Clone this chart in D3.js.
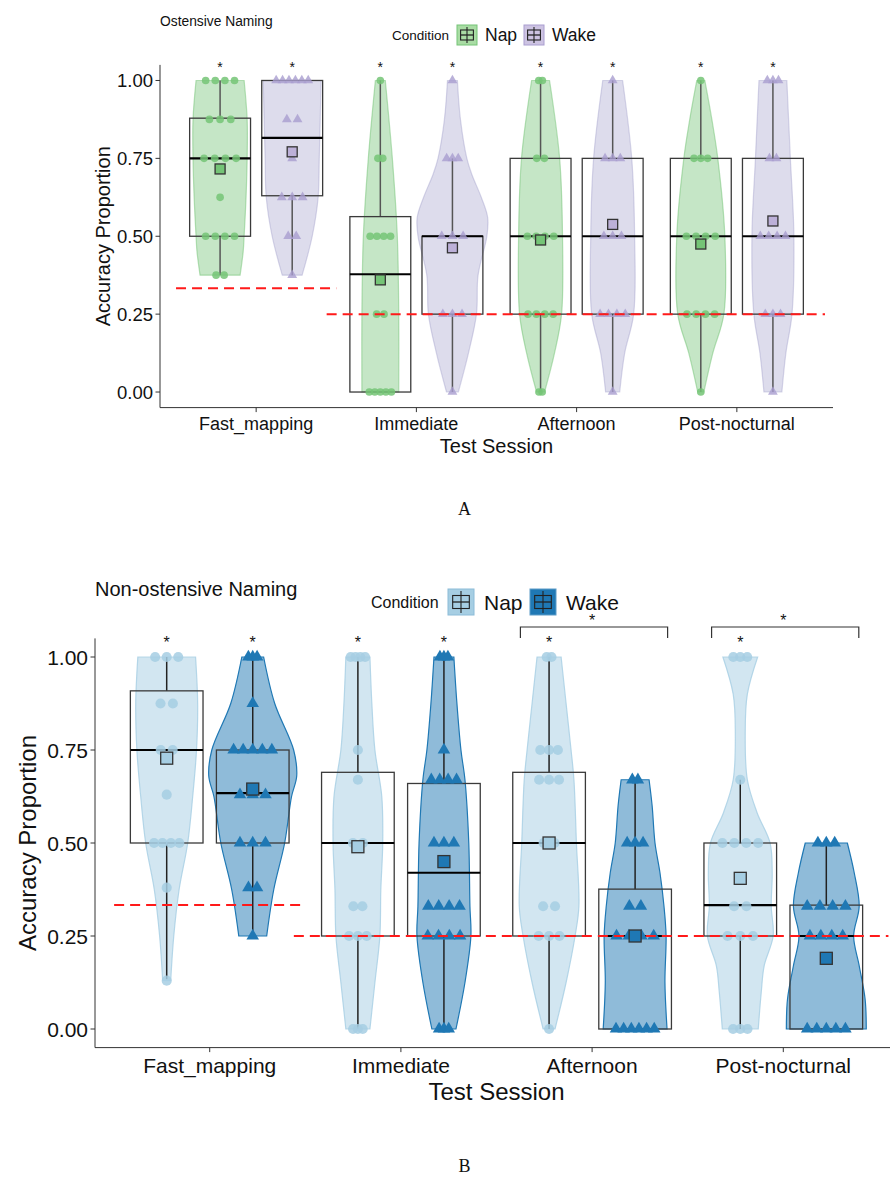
<!DOCTYPE html>
<html>
<head>
<meta charset="utf-8">
<script src="https://cdn.jsdelivr.net/npm/d3@7"></script>
<style>
  body { margin: 0; background: #fff; }
  svg text { font-family: "Liberation Sans", Arial, sans-serif; fill: #111; }
</style>
</head>
<body>
<div id="container"></div>
<script>
/* DATA */
const sessions = ["Fast_mapping", "Immediate", "Afternoon", "Post-nocturnal"];
const conditions = ["Nap", "Wake"];
const yTicks = [0, 0.25, 0.5, 0.75, 1];
const chance = [1 / 3, 0.25]; // fast mapping, later sessions

// box stats per session: [low whisker, q1, median, q3, high whisker]
const boxA_Nap = [[0.375, 0.5, 0.75, 0.879, 1], [0, 0, 0.378, 0.563, 1], [0, 0.25, 0.5, 0.75, 1], [0, 0.25, 0.5, 0.75, 1]];
const boxA_Wake = [[0.375, 0.63, 0.816, 1, 1], [0, 0.25, 0.5, 0.5, 0.75], [0, 0.25, 0.5, 0.75, 1], [0, 0.25, 0.5, 0.75, 1]];
const meanA_Nap = [0.716, 0.36, 0.488, 0.475];
const meanA_Wake = [0.771, 0.463, 0.538, 0.549];

const boxB_Nap = [[0.134, 0.5, 0.75, 0.909, 1], [0, 0.25, 0.5, 0.69, 1], [0, 0.25, 0.5, 0.69, 1], [0, 0.25, 0.333, 0.5, 0.67]];
const boxB_Wake = [[0.25, 0.5, 0.634, 0.75, 1], [0, 0.25, 0.42, 0.66, 1], [0, 0, 0.25, 0.376, 0.67], [0, 0, 0.25, 0.333, 0.5]];
const meanB_Nap = [0.728, 0.49, 0.5, 0.405];
const meanB_Wake = [0.645, 0.45, 0.25, 0.19];

// violin profiles: [value, half width as share of the category step]
const violA_Nap = [
  [[0.375, 0.125], [0.45, 0.144], [0.5, 0.15], [0.625, 0.162], [0.75, 0.169], [0.875, 0.169], [1, 0.15]],
  [[0, 0.115], [0.25, 0.115], [0.5, 0.106], [0.75, 0.075], [1, 0.031]],
  [[0, 0.025], [0.125, 0.087], [0.25, 0.131], [0.5, 0.137], [0.75, 0.119], [1, 0.056]],
  [[0, 0.019], [0.125, 0.075], [0.25, 0.144], [0.5, 0.15], [0.75, 0.106], [0.875, 0.069], [1, 0.025]]
];
const violA_Wake = [
  [[0.375, 0.062], [0.5, 0.125], [0.625, 0.162], [0.75, 0.169], [0.875, 0.175], [1, 0.181]],
  [[0, 0.037], [0.125, 0.1], [0.25, 0.15], [0.375, 0.16], [0.5, 0.215], [0.56, 0.22], [0.625, 0.18], [0.7, 0.12], [0.75, 0.09], [0.875, 0.05], [1, 0.031]],
  [[0, 0.044], [0.125, 0.075], [0.25, 0.131], [0.5, 0.137], [0.75, 0.119], [1, 0.062]],
  [[0, 0.056], [0.125, 0.081], [0.25, 0.119], [0.5, 0.131], [0.75, 0.109], [1, 0.087]]
];
const violB_Nap = [
  [[0.13, 0.021], [0.25, 0.037], [0.375, 0.065], [0.5, 0.11], [0.625, 0.136], [0.75, 0.156], [0.875, 0.162], [1, 0.151]],
  [[0, 0.063], [0.125, 0.089], [0.25, 0.115], [0.375, 0.12], [0.5, 0.13], [0.625, 0.125], [0.75, 0.089], [0.875, 0.073], [1, 0.063]],
  [[0, 0.031], [0.125, 0.089], [0.25, 0.136], [0.33, 0.156], [0.5, 0.143], [0.67, 0.13], [0.75, 0.115], [0.875, 0.089], [1, 0.063]],
  [[0, 0.094], [0.1, 0.11], [0.17, 0.125], [0.25, 0.172], [0.33, 0.162], [0.42, 0.167], [0.5, 0.156], [0.58, 0.089], [0.67, 0.037], [0.8, 0.026], [0.9, 0.037], [1, 0.091]]
];
const violB_Wake = [
  [[0.25, 0.073], [0.375, 0.11], [0.5, 0.167], [0.625, 0.203], [0.68, 0.23], [0.75, 0.214], [0.875, 0.115], [1, 0.057]],
  [[0, 0.063], [0.125, 0.11], [0.25, 0.141], [0.33, 0.136], [0.5, 0.13], [0.67, 0.11], [0.75, 0.089], [0.875, 0.068], [1, 0.052]],
  [[0, 0.167], [0.125, 0.156], [0.25, 0.162], [0.33, 0.151], [0.42, 0.13], [0.5, 0.104], [0.6, 0.089], [0.67, 0.073]],
  [[0, 0.209], [0.08, 0.203], [0.17, 0.172], [0.25, 0.143], [0.33, 0.172], [0.42, 0.146], [0.5, 0.11]]
];

// individual scores: [value, number of children]
const ptsA_Nap = [
  [[1, 4], [0.875, 3], [0.75, 4], [0.625, 1], [0.5, 4], [0.375, 2]],
  [[1, 1], [0.75, 2], [0.5, 4], [0.25, 2], [0, 5]],
  [[1, 2], [0.75, 2], [0.5, 4], [0.25, 4], [0, 2]],
  [[1, 1], [0.75, 3], [0.5, 4], [0.25, 4], [0, 1]]
];
const ptsA_Wake = [
  [[1, 6], [0.875, 2], [0.75, 1], [0.625, 3], [0.5, 2], [0.375, 1]],
  [[1, 1], [0.75, 3], [0.5, 3], [0.25, 3], [0, 1]],
  [[1, 1], [0.75, 3], [0.5, 3], [0.25, 4], [0, 1]],
  [[1, 3], [0.75, 2], [0.5, 4], [0.25, 3], [0, 1]]
];
const ptsB_Nap = [
  [[1, 3], [0.875, 2], [0.75, 2], [0.63, 1], [0.5, 4], [0.38, 1], [0.13, 1]],
  [[1, 4], [0.75, 1], [0.67, 1], [0.5, 2], [0.33, 2], [0.25, 3], [0, 3]],
  [[1, 2], [0.75, 3], [0.67, 3], [0.5, 2], [0.33, 2], [0.25, 3], [0, 1]],
  [[1, 3], [0.67, 1], [0.5, 4], [0.33, 2], [0.25, 3], [0, 3]]
];
const ptsB_Wake = [
  [[1, 3], [0.875, 1], [0.75, 5], [0.63, 3], [0.5, 3], [0.38, 2], [0.25, 1]],
  [[1, 3], [0.75, 1], [0.67, 4], [0.5, 3], [0.33, 4], [0.25, 4], [0, 3]],
  [[0.67, 2], [0.5, 3], [0.33, 2], [0.25, 4], [0, 6]],
  [[0.5, 3], [0.33, 4], [0.25, 4], [0, 5]]
];

const starsA = [[1, 1], [1, 1], [1, 1], [1, 1]];   // [Nap, Wake] per session
const starsB = [[1, 1], [1, 1], [1, 0], [1, 0]];
const bracketsB = ["Afternoon", "Post-nocturnal"];

/* SVG */
const svg = d3.select("#container").append("svg")
  .attr("width", 890).attr("height", 1177);

function drawPanel(p) {
  const g = svg.append("g");
  const x = d3.scalePoint().domain(sessions).range([p.left, p.right]).padding(0.6);
  const step = x.step();
  const y = d3.scaleLinear().domain([-0.05, 1.05]).range([p.bottom, p.top]);
  const dodge = 0.225 * step, boxHalf = 0.19 * step;

  // axes
  g.append("line").attr("x1", p.left).attr("x2", p.left).attr("y1", p.top).attr("y2", p.bottom)
    .attr("stroke", "#333");
  g.append("line").attr("x1", p.left).attr("x2", p.right).attr("y1", p.bottom).attr("y2", p.bottom)
    .attr("stroke", "#333");
  yTicks.forEach(t => {
    g.append("line").attr("x1", p.left - 4.5).attr("x2", p.left).attr("y1", y(t)).attr("y2", y(t)).attr("stroke", "#333");
    g.append("text").attr("x", p.left - 7).attr("y", y(t)).attr("dy", "0.36em")
      .attr("text-anchor", "end").style("font-size", p.yTickFont + "px").text(t.toFixed(2));
  });
  sessions.forEach(s => {
    g.append("line").attr("x1", x(s)).attr("x2", x(s)).attr("y1", p.bottom).attr("y2", p.bottom + 4.5).attr("stroke", "#333");
    g.append("text").attr("x", x(s)).attr("y", p.tickBase).attr("text-anchor", "middle")
      .style("font-size", p.xTickFont + "px").text(s);
  });
  g.append("text").attr("x", (p.left + p.right) / 2).attr("y", p.titleBase).attr("text-anchor", "middle")
    .style("font-size", p.titleFont + "px").text("Test Session");
  g.append("text").attr("transform", `translate(${p.yTitleX},${(p.top + p.bottom) / 2}) rotate(-90)`)
    .attr("text-anchor", "middle").style("font-size", p.titleFont + "px").text("Accuracy Proportion");

  const area = d3.area().curve(d3.curveCatmullRom.alpha(0.5));
  const tri = d3.symbol(d3.symbolTriangle, p.triSize);
  const circ = d3.symbol(d3.symbolCircle, p.dotSize);

  conditions.forEach((c, ci) => {
    const st = p.style[c];
    sessions.forEach((s, si) => {
      const cx = x(s) + (ci === 0 ? -dodge : dodge);
      const prof = p.viol[c][si];
      const hw = d3.scaleLinear().domain(prof.map(d => d[0])).range(prof.map(d => d[1])).clamp(true);
      // violin
      g.append("path")
        .attr("d", area.y(d => y(d[0])).x0(d => cx - d[1] * step).x1(d => cx + d[1] * step)(prof))
        .attr("fill", st.fill).attr("fill-opacity", st.fillOp)
        .attr("stroke", st.line).attr("stroke-opacity", st.lineOp).attr("stroke-width", 1.2);
      // box plot
      const [lo, q1, md, q3, hi] = p.box[c][si];
      g.append("line").attr("x1", cx).attr("x2", cx).attr("y1", y(hi)).attr("y2", y(q3))
        .attr("stroke", p.whisker).attr("stroke-width", 1.5);
      g.append("line").attr("x1", cx).attr("x2", cx).attr("y1", y(q1)).attr("y2", y(lo))
        .attr("stroke", p.whisker).attr("stroke-width", 1.5);
      g.append("rect").attr("x", cx - boxHalf).attr("width", 2 * boxHalf)
        .attr("y", y(q3)).attr("height", y(q1) - y(q3))
        .attr("fill", "none").attr("stroke", "#3a3a3a").attr("stroke-width", 1.3);
      g.append("line").attr("x1", cx - boxHalf).attr("x2", cx + boxHalf).attr("y1", y(md)).attr("y2", y(md))
        .attr("stroke", "#000").attr("stroke-width", 2.2);
      // points, grouped in a small cluster at each level
      p.pts[c][si].forEach(([v, k]) => {
        const spread = Math.min(Math.max(hw(v) * step, 0.05 * step) * 0.6, 0.1 * step) * Math.min(1, (k - 1) / 3);
        d3.range(k).forEach(i => {
          const off = k === 1 ? 0 : -spread + 2 * spread * i / (k - 1);
          g.append("path").attr("d", ci === 0 ? circ() : tri())
            .attr("transform", `translate(${cx + off},${y(v)})`)
            .attr("fill", st.pt).attr("fill-opacity", st.ptOp);
        });
      });
      // significance star against chance
      if (p.stars[si][ci]) {
        g.append("text").attr("x", cx).attr("y", y(1) - p.starLift).attr("text-anchor", "middle")
          .style("font-size", p.starFont + "px").text("*");
      }
    });
  });

  // chance lines
  g.append("line").attr("x1", x(sessions[0]) - 0.5 * step).attr("x2", x(sessions[0]) + 0.5 * step)
    .attr("y1", y(chance[0])).attr("y2", y(chance[0]))
    .attr("stroke", "#ff1a1a").attr("stroke-width", 2).attr("stroke-dasharray", "10,6");
  g.append("line").attr("x1", x(sessions[1]) - 0.56 * step).attr("x2", x(sessions[3]) + 0.55 * step)
    .attr("y1", y(chance[1])).attr("y2", y(chance[1]))
    .attr("stroke", "#ff1a1a").attr("stroke-width", 2).attr("stroke-dasharray", "10,6");

  // means
  conditions.forEach((c, ci) => {
    const st = p.style[c];
    sessions.forEach((s, si) => {
      const cx = x(s) + (ci === 0 ? -dodge : dodge);
      g.append("rect").attr("x", cx - p.meanSize / 2).attr("y", y(p.mean[c][si]) - p.meanSize / 2)
        .attr("width", p.meanSize).attr("height", p.meanSize)
        .attr("fill", st.mean).attr("stroke", "#333").attr("stroke-width", 1.3);
    });
  });

  // between-condition brackets
  (p.brackets || []).forEach(s => {
    const x1 = x(s) - dodge - 0.15 * step, x2 = x(s) + dodge + 0.17 * step;
    const yt = y(1) - 30, yb = y(1) - 19;
    g.append("path").attr("d", `M${x1},${yb}V${yt}H${x2}V${yb}`)
      .attr("fill", "none").attr("stroke", "#333").attr("stroke-width", 1.2);
    g.append("text").attr("x", x(s)).attr("y", yt - 1).attr("text-anchor", "middle")
      .style("font-size", p.starFont + "px").text("*");
  });

  // title and legend
  g.append("text").attr("x", p.titleX).attr("y", p.headBase).style("font-size", p.headFont + "px").text(p.head);
  const lg = p.legend;
  g.append("text").attr("x", lg.x).attr("y", lg.base).style("font-size", lg.condFont + "px").text("Condition");
  conditions.forEach((c, ci) => {
    const st = p.style[c];
    const kx = lg.keys[ci], ks = lg.key, ky = lg.keyY;
    g.append("rect").attr("x", kx).attr("y", ky).attr("width", ks).attr("height", ks)
      .attr("fill", st.key).attr("stroke", st.keyLine).attr("stroke-width", 1);
    g.append("rect").attr("x", kx + ks * 0.18).attr("y", ky + ks * 0.25).attr("width", ks * 0.64).attr("height", ks * 0.5)
      .attr("fill", "none").attr("stroke", "#222").attr("stroke-width", 1.1);
    g.append("line").attr("x1", kx + ks / 2).attr("x2", kx + ks / 2).attr("y1", ky + 2).attr("y2", ky + ks - 2)
      .attr("stroke", "#222").attr("stroke-width", 1.1);
    g.append("line").attr("x1", kx + ks * 0.18).attr("x2", kx + ks * 0.82).attr("y1", ky + ks / 2).attr("y2", ky + ks / 2)
      .attr("stroke", "#222").attr("stroke-width", 1.3);
    g.append("text").attr("x", kx + ks + lg.gap).attr("y", lg.base + lg.labelDrop)
      .style("font-size", lg.labelFont + "px").text(c);
  });

  svg.append("text").attr("x", (p.left + p.right) / 2 - 32).attr("y", p.letterBase).attr("text-anchor", "middle")
    .style("font-family", "'Liberation Serif', 'Times New Roman', serif").style("font-size", "18px").text(p.letter);
}

drawPanel({
  head: "Ostensive Naming", letter: "A", letterBase: 515,
  left: 160, right: 833, top: 64.9, bottom: 407.6,
  yTickFont: 18.5, xTickFont: 18, titleFont: 20, tickBase: 430, titleBase: 453, yTitleX: 110,
  headFont: 13.8, headBase: 26, titleX: 160,
  starFont: 14, starLift: 8,
  dotSize: 46, triSize: 42, meanSize: 10, whisker: "#555",
  box: { Nap: boxA_Nap, Wake: boxA_Wake }, mean: { Nap: meanA_Nap, Wake: meanA_Wake },
  viol: { Nap: violA_Nap, Wake: violA_Wake }, pts: { Nap: ptsA_Nap, Wake: ptsA_Wake },
  stars: starsA,
  style: {
    Nap: { fill: "#74c476", fillOp: 0.42, line: "#74c476", lineOp: 0.5, pt: "#74c476", ptOp: 0.85, mean: "#74c476", key: "#a9dca4", keyLine: "#74c476" },
    Wake: { fill: "#9e9ac8", fillOp: 0.35, line: "#9e9ac8", lineOp: 0.4, pt: "#a99ed0", ptOp: 0.8, mean: "#bcb0d8", key: "#cdc3e2", keyLine: "#a99ed0" }
  },
  legend: { x: 392, base: 40, condFont: 13.5, keys: [457, 524], key: 20, keyY: 25, gap: 8, labelFont: 17.5, labelDrop: 1 }
});

drawPanel({
  head: "Non-ostensive Naming", letter: "B", letterBase: 1172,
  left: 95, right: 898, top: 638.4, bottom: 1047.6,
  yTickFont: 21, xTickFont: 21, titleFont: 24, tickBase: 1073, titleBase: 1100, yTitleX: 36,
  headFont: 20, headBase: 596, titleX: 95,
  starFont: 16, starLift: 9,
  dotSize: 80, triSize: 68, meanSize: 12, whisker: "#222",
  box: { Nap: boxB_Nap, Wake: boxB_Wake }, mean: { Nap: meanB_Nap, Wake: meanB_Wake },
  viol: { Nap: violB_Nap, Wake: violB_Wake }, pts: { Nap: ptsB_Nap, Wake: ptsB_Wake },
  stars: starsB, brackets: bracketsB,
  style: {
    Nap: { fill: "#a6cee3", fillOp: 0.5, line: "#a6cee3", lineOp: 0.8, pt: "#a6cee3", ptOp: 0.85, mean: "#a6cee3", key: "#a6cee3", keyLine: "#8cbcd8" },
    Wake: { fill: "#1f78b4", fillOp: 0.5, line: "#1f78b4", lineOp: 1, pt: "#1f78b4", ptOp: 1, mean: "#1f78b4", key: "#1f78b4", keyLine: "#5d9cc8" }
  },
  legend: { x: 371, base: 608, condFont: 16, keys: [448, 530], key: 26, keyY: 589, gap: 10, labelFont: 21, labelDrop: 2 }
});
</script>
</body>
</html>
